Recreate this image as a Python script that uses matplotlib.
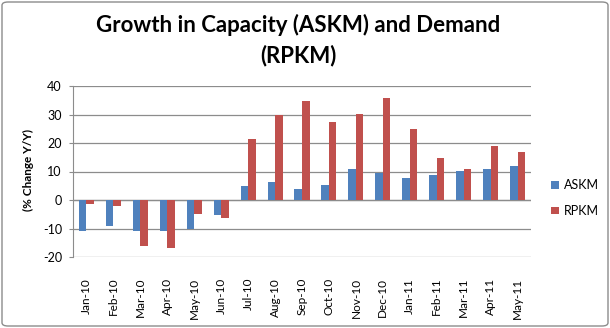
import matplotlib
matplotlib.use("Agg")
import matplotlib.pyplot as plt
import numpy as np
from matplotlib.patches import FancyBboxPatch

months = ["Jan-10", "Feb-10", "Mar-10", "Apr-10", "May-10", "Jun-10", "Jul-10",
          "Aug-10", "Sep-10", "Oct-10", "Nov-10", "Dec-10", "Jan-11", "Feb-11",
          "Mar-11", "Apr-11", "May-11"]
askm = [-11.0, -9.0, -11.0, -11.0, -10.2, -5.2, 4.9, 6.3, 3.8, 5.2, 10.8, 9.4,
        7.7, 8.7, 10.1, 10.8, 11.9]
rpkm = [-1.4, -2.1, -16.3, -16.7, -4.9, -6.2, 21.3, 29.9, 34.9, 27.2, 30.3, 35.9,
        24.8, 14.7, 10.8, 18.8, 16.7]
yticks = [-20, -10, 0, 10, 20, 30, 40]

plt.rcParams['font.family'] = ['Lato', 'DejaVu Sans']

W, H = 610, 328
fig = plt.figure(figsize=(W/100, H/100), dpi=100)
ax = fig.add_axes([73/W, 1-257/H, (531-73)/W, (257-86)/H])

x = np.arange(len(months))
bw = 0.28
c_askm = "#4F81BD"
c_rpkm = "#C0504D"
ax.bar(x - bw/2, askm, bw, color=c_askm, label="ASKM", zorder=3)
ax.bar(x + bw/2, rpkm, bw, color=c_rpkm, label="RPKM", zorder=3)

ax.set_xlim(-0.5, len(months) - 0.5)
ax.set_ylim(-20, 40)
ax.set_yticks(yticks)
ax.set_yticklabels([str(v) for v in yticks], fontsize=9)
ax.yaxis.grid(True, color="#8c8c8c", linewidth=0.9, zorder=0)
ax.axhline(0, color="#8c8c8c", linewidth=0.9, zorder=2)
for s in ["top", "right", "bottom"]:
    ax.spines[s].set_visible(False)
ax.spines["left"].set_color("#8c8c8c")
ax.tick_params(axis="y", length=3, color="#8c8c8c", pad=5, labelcolor="#000000")
ax.set_xticks(x)
ax.set_xticklabels(months, rotation=90, fontsize=8.5)
ax.tick_params(axis="x", length=0, pad=15)

fig.text(28/W, 1-170/H, "(% Change Y/Y)", rotation=90, ha="center", va="center",
         fontsize=8.5, fontweight="bold")

fig.text(298/W, 1-25/H, "Growth in Capacity (ASKM) and Demand", ha="center",
         va="center", fontsize=16, fontweight="bold")
fig.text(298/W, 1-56/H, "(RPKM)", ha="center", va="center", fontsize=16,
         fontweight="bold")

ax.legend(loc="center left", bbox_to_anchor=(540/W, 1-198/H),
          bbox_transform=fig.transFigure, frameon=False, fontsize=9,
          handlelength=0.6, handleheight=0.6, handletextpad=0.4,
          labelspacing=1.1)

border = FancyBboxPatch((2/W, 2/H), (W-4)/W, (H-4)/H,
                        boxstyle="round,pad=0,rounding_size=0.01",
                        transform=fig.transFigure, fill=False,
                        edgecolor="#8c8c8c", linewidth=1.0)
fig.patches.append(border)

fig.savefig("out.png", dpi=100)
